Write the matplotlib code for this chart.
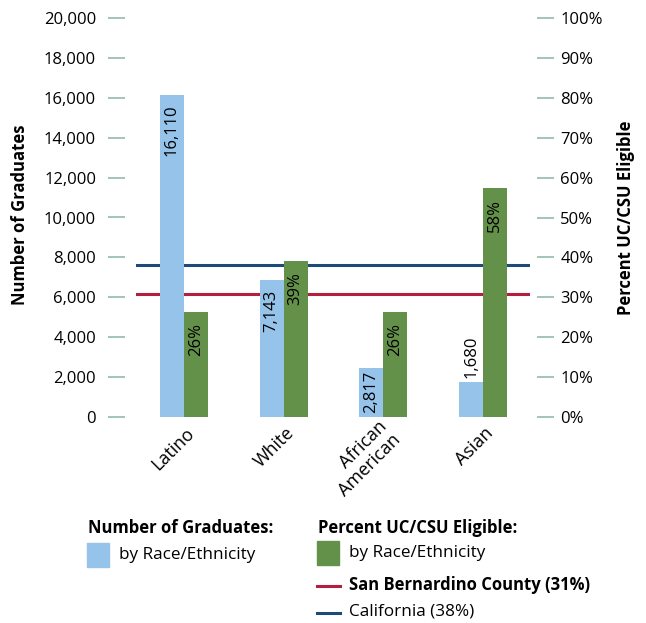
import matplotlib.pyplot as plt
from matplotlib.patches import Rectangle
from matplotlib.lines import Line2D

plt.rcParams['font.family'] = ['Open Sans', 'DejaVu Sans']

categories = ['Latino', 'White', 'African\nAmerican', 'Asian']
grads = [16150, 6850, 2470, 1750]            # bar heights as drawn
grad_labels = ['16,110', '7,143', '2,817', '1,680']
pct = [26.3, 39.0, 26.3, 57.5]
pct_labels = ['26%', '39%', '26%', '58%']
county_pct = 30.8
state_pct = 38.0

blue = '#96c3e9'
green = '#64914a'
red = '#b3203f'
navy = '#1d4a78'
tickc = '#9cbfb2'

fig = plt.figure(figsize=(6.46, 6.23), dpi=100)
ax = fig.add_axes([136/646, 1-417/623, 394/646, 399/623])
ax2 = ax.twinx()

ymax = 20000
w = 0.24
x = list(range(len(categories)))
# reference lines sit under the bars; draw them on the count axis (100% == ymax)
ax.axhline(county_pct / 100 * ymax, color=red, lw=2.2, zorder=1)
ax.axhline(state_pct / 100 * ymax, color=navy, lw=2.2, zorder=1)
ax.bar([i - w/2 for i in x], grads, width=w, color=blue, zorder=2)
ax2.bar([i + w/2 for i in x], pct, width=w, color=green, zorder=2)

ax.set_xlim(-0.48, 3.47)
ax.set_ylim(0, ymax)
ax2.set_ylim(0, 100)
ax.set_yticks(range(0, ymax + 1, 2000))
ax.set_yticklabels([f'{v:,}' for v in range(0, ymax + 1, 2000)])
ax2.set_yticks(range(0, 101, 10))
ax2.set_yticklabels([f'{v}%' for v in range(0, 101, 10)])

for a in (ax, ax2):
    for s in a.spines.values():
        s.set_visible(False)
ax.spines['left'].set_position(('outward', 8))
ax2.spines['right'].set_position(('outward', 5))
ax.tick_params(axis='y', length=12.2, width=1.3, color=tickc, pad=8.5, labelsize=12)
ax2.tick_params(axis='y', length=12.2, width=1.3, color=tickc, pad=4.5, labelsize=12)
ax.set_xticks([])

# value labels
for i, (h, lab) in enumerate(zip(grads, grad_labels)):
    if h > 5000:
        ax.annotate(lab, (i - w/2, h), xytext=(0, -7), textcoords='offset points',
                    rotation=90, ha='center', va='top', fontsize=12, zorder=4)
    elif h > 2200:
        ax.annotate(lab, (i - w/2, 0), xytext=(0, 3), textcoords='offset points',
                    rotation=90, ha='center', va='bottom', fontsize=12, zorder=4)
    else:
        ax.annotate(lab, (i - w/2, h), xytext=(0, 3), textcoords='offset points',
                    rotation=90, ha='center', va='bottom', fontsize=12, zorder=4)
for i, (h, lab) in enumerate(zip(pct, pct_labels)):
    ax2.annotate(lab, (i + w/2, h), xytext=(0, -8), textcoords='offset points',
                 rotation=90, ha='center', va='top', fontsize=12, zorder=4)

# category labels
for i, c in enumerate(categories):
    ax.annotate(c, (i, 0), xycoords=('data', 'axes fraction'), xytext=(5.5, -9.5),
                textcoords='offset points', rotation=45, rotation_mode='anchor',
                ha='right', va='center', fontsize=13, linespacing=1.05)

fig.text(20/646, 1-215/623, 'Number of Graduates', rotation=90, ha='center', va='center',
         fontsize=12, fontweight='bold')
fig.text(626/646, 1-218/623, 'Percent UC/CSU Eligible', rotation=90, ha='center', va='center',
         fontsize=12, fontweight='bold')

# legend
def fx(px):
    return px / 646

def fy(py):
    return 1 - py / 623

fig.text(fx(88), fy(528), 'Number of Graduates:', fontsize=12, fontweight='bold', va='center')
fig.patches.append(Rectangle((fx(87), fy(567)), fx(22), 24/623, color=blue,
                             transform=fig.transFigure, figure=fig))
fig.text(fx(119), fy(555), 'by Race/Ethnicity', fontsize=12.3, va='center')

fig.text(fx(318), fy(528), 'Percent UC/CSU Eligible:', fontsize=12, fontweight='bold', va='center')
fig.patches.append(Rectangle((fx(317), fy(565)), fx(22), 24/623, color=green,
                             transform=fig.transFigure, figure=fig))
fig.text(fx(349), fy(553), 'by Race/Ethnicity', fontsize=12.3, va='center')
fig.lines.append(Line2D([fx(317), fx(340)], [fy(586), fy(586)], color=red, lw=2.2,
                        transform=fig.transFigure))
fig.text(fx(349), fy(585), 'San Bernardino County (31%)', fontsize=12, fontweight='bold', va='center')
fig.lines.append(Line2D([fx(317), fx(340)], [fy(613), fy(613)], color=navy, lw=2.2,
                        transform=fig.transFigure))
fig.text(fx(349), fy(612), 'California (38%)', fontsize=12.3, va='center')

fig.savefig('out.png', dpi=100)
